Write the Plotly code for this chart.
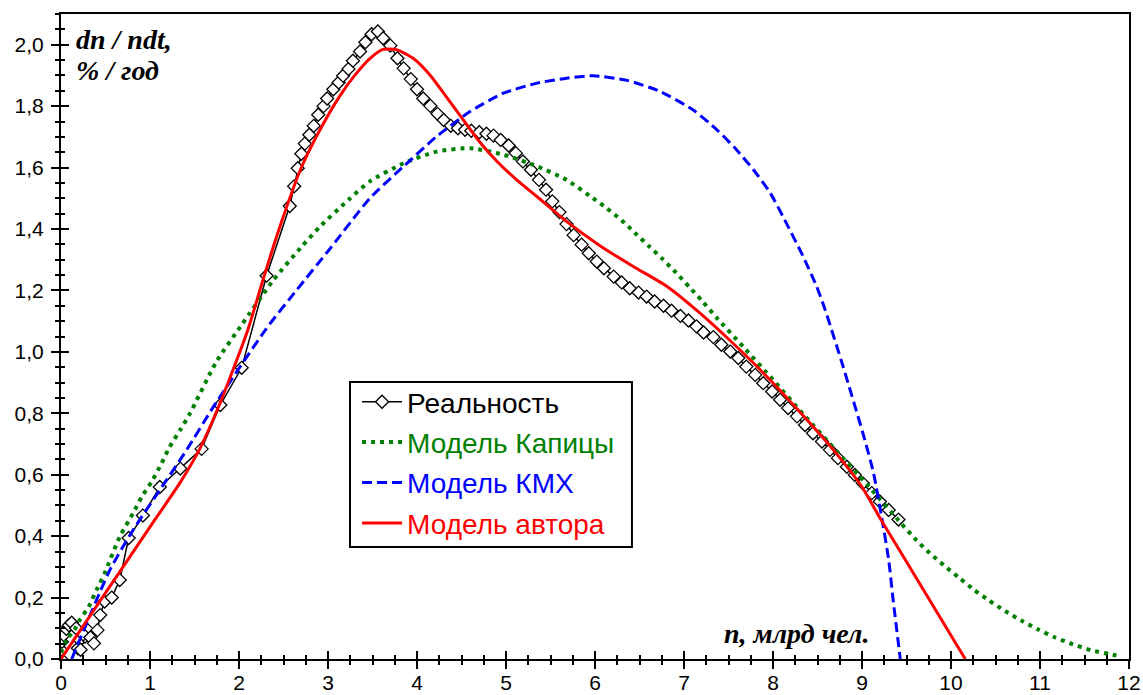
import plotly.graph_objects as go

# ---------------- data ----------------
real_x = [0.0, 0.0, 0.01, 0.03, 0.06, 0.09, 0.12, 0.17, 0.21, 0.19, 0.22, 0.27, 0.30, 0.25,
          0.33, 0.37, 0.41, 0.44, 0.49, 0.57, 0.66, 0.76, 0.92, 1.11, 1.34, 1.58, 1.79, 2.03,
          2.31, 2.57, 2.62, 2.66, 2.70, 2.74, 2.79, 2.84, 2.89, 2.95, 2.99, 3.06, 3.12, 3.17,
          3.23, 3.28, 3.36, 3.42, 3.49, 3.56, 3.62, 3.70, 3.78, 3.85, 3.93, 4.00, 4.07, 4.15,
          4.23, 4.30, 4.38, 4.46, 4.54, 4.61, 4.70, 4.78, 4.86, 4.94, 5.03, 5.11, 5.19, 5.28,
          5.37, 5.45, 5.52, 5.60, 5.68, 5.76, 5.85, 5.93, 6.02, 6.10, 6.21, 6.30, 6.39, 6.49,
          6.58, 6.67, 6.77, 6.86, 6.96, 7.05, 7.14, 7.22, 7.33, 7.42, 7.52, 7.61, 7.70, 7.80,
          7.89, 7.99, 8.08, 8.17, 8.27, 8.36, 8.45, 8.55, 8.64, 8.73, 8.83, 8.92, 9.01, 9.11,
          9.20, 9.30, 9.41]
real_y = [0.0, 0.03, 0.056, 0.078, 0.098, 0.11, 0.118, 0.10, 0.062, 0.035, 0.03, 0.073, 0.094, 0.08,
          0.07, 0.051, 0.094, 0.143, 0.187, 0.20, 0.257, 0.394, 0.467, 0.56, 0.62, 0.684, 0.827, 0.948,
          1.248, 1.475, 1.539, 1.598, 1.645, 1.678, 1.707, 1.736, 1.772, 1.80, 1.825, 1.855, 1.877, 1.899,
          1.921, 1.948, 1.978, 2.008, 2.034, 2.043, 2.021, 1.997, 1.956, 1.923, 1.888, 1.855, 1.825, 1.801,
          1.775, 1.755, 1.736, 1.728, 1.723, 1.72, 1.715, 1.71, 1.704, 1.69, 1.672, 1.647, 1.62, 1.593,
          1.56, 1.528, 1.49, 1.455, 1.416, 1.38, 1.349, 1.321, 1.294, 1.272, 1.245, 1.226, 1.207, 1.193,
          1.18, 1.164, 1.15, 1.134, 1.117, 1.102, 1.083, 1.063, 1.048, 1.023, 1.001, 0.98, 0.952, 0.925,
          0.898, 0.871, 0.844, 0.817, 0.79, 0.762, 0.735, 0.708, 0.681, 0.654, 0.626, 0.599, 0.572, 0.54,
          0.513, 0.485, 0.454]

kap_x = [0.0, 0.06, 0.15, 0.21, 0.31, 0.40, 0.49, 0.66, 0.81, 0.91, 1.02, 1.13, 1.22, 1.34, 1.45,
         1.74, 2.03, 2.39, 2.69, 2.91, 3.23, 3.47, 3.85, 4.22, 4.60, 4.97, 5.35, 5.68,
         5.98, 6.13, 6.30, 6.45, 6.61, 6.76, 6.91, 7.06, 7.20, 7.37, 7.67, 8.00, 8.34, 8.72,
         9.05, 9.445, 9.61, 9.76, 9.92, 10.09, 10.26, 10.43, 10.61, 10.79, 10.98, 11.17,
         11.37, 11.57, 11.78, 11.88]
kap_y = [0.02, 0.062, 0.094, 0.127, 0.17, 0.225, 0.279, 0.398, 0.475, 0.529, 0.578, 0.637, 0.69, 0.746, 0.80,
         0.965, 1.088, 1.235, 1.338, 1.408, 1.495, 1.555, 1.614, 1.652, 1.663, 1.642, 1.604, 1.56,
         1.50, 1.468, 1.428, 1.387, 1.343, 1.302, 1.258, 1.211, 1.167, 1.11, 1.015, 0.909, 0.797, 0.675,
         0.57, 0.44, 0.387, 0.345, 0.305, 0.265, 0.225, 0.19, 0.156, 0.125, 0.096, 0.07,
         0.048, 0.029, 0.016, 0.01]

kmx_x = [0.12, 0.55, 0.81, 1.11, 1.41, 1.71, 2.31, 2.65, 3.02, 3.47, 3.85, 4.22, 4.60, 4.97, 5.35,
         5.68, 5.98, 6.36, 6.73, 7.10, 7.37, 7.59, 7.78, 7.97, 8.15, 8.34, 8.49, 8.58, 8.79, 9.03,
         9.13, 9.22, 9.30, 9.35, 9.43]
kmx_y = [0.0, 0.29, 0.42, 0.55, 0.68, 0.82, 1.077, 1.202, 1.335, 1.50, 1.604, 1.701, 1.783, 1.842, 1.875,
         1.891, 1.899, 1.884, 1.848, 1.788, 1.723, 1.658, 1.593, 1.517, 1.419, 1.31, 1.213, 1.142, 0.95, 0.715,
         0.605, 0.463, 0.322, 0.192, 0.0]

aut_x = [0.0, 0.50, 1.0, 1.34, 1.56, 1.79, 2.10, 2.27, 2.46, 2.69, 2.91, 3.13, 3.30, 3.47, 3.62,
         3.77, 3.96, 4.15, 4.33, 4.52, 4.70, 4.90, 5.12, 5.35, 5.68, 6.06, 6.43, 6.81, 7.18, 7.55,
         7.93, 8.30, 8.68, 9.00, 9.20, 9.43, 10.16]
aut_y = [0.0, 0.215, 0.43, 0.575, 0.685, 0.835, 1.072, 1.235, 1.408, 1.593, 1.723, 1.832, 1.90, 1.955, 1.985,
         1.984, 1.955, 1.90, 1.83, 1.755, 1.685, 1.62, 1.56, 1.505, 1.425, 1.345, 1.278, 1.213, 1.126, 1.028,
         0.92, 0.805, 0.68, 0.56, 0.46, 0.35, 0.0]

names = ["Реальность", "Модель Капицы", "Модель КМХ", "Модель автора"]
x_ticks = list(range(0, 13))
y_ticks = [0.0, 0.2, 0.4, 0.6, 0.8, 1.0, 1.2, 1.4, 1.6, 1.8, 2.0]

# ---------------- figure ----------------
fig = go.Figure()

fig.add_trace(go.Scatter(
    x=real_x, y=real_y, mode="lines+markers",
    name=f"<span style='color:black'>{names[0]}</span>",
    line=dict(color="black", width=1.5),
    marker=dict(symbol="diamond", size=10, color="white", line=dict(color="black", width=1.3)),
    legendgroup="a",
))
fig.add_trace(go.Scatter(
    x=kap_x, y=kap_y, mode="lines", line_shape="spline", line_smoothing=0.6,
    name=f"<span style='color:#008000'>{names[1]}</span>",
    line=dict(color="#008000", width=4, dash="4px,5px"),
    legendgroup="b",
))
fig.add_trace(go.Scatter(
    x=kmx_x, y=kmx_y, mode="lines", line_shape="spline", line_smoothing=0.6,
    name=f"<span style='color:#0000ff'>{names[2]}</span>",
    line=dict(color="#0000ff", width=3, dash="10px,5px"),
    legendgroup="c",
))
fig.add_trace(go.Scatter(
    x=aut_x, y=aut_y, mode="lines", line_shape="spline", line_smoothing=0.6,
    name=f"<span style='color:#ff0000'>{names[3]}</span>",
    line=dict(color="#ff0000", width=3),
    legendgroup="d",
))
# invisible trace to activate overlay axes (inner ticks)
fig.add_trace(go.Scatter(x=[None], y=[None], xaxis="x2", yaxis="y2",
                         showlegend=False, hoverinfo="skip"))

tick_font = dict(family="Liberation Sans, Arial, sans-serif", size=21, color="black")

fig.update_layout(
    width=1143, height=695,
    margin=dict(l=61, r=14, t=14, b=36, autoexpand=False),
    paper_bgcolor="white", plot_bgcolor="white",
    separators=", ",
    showlegend=True,
    legend=dict(
        x=0.2772, y=0.4372, xanchor="left", yanchor="top",
        bgcolor="rgba(0,0,0,0)", borderwidth=0,
        font=dict(family="Liberation Sans, Arial, sans-serif", size=28, color="black"),
        tracegroupgap=1, itemwidth=40,
    ),
    # legend frame
    shapes=[dict(type="rect", xref="paper", yref="paper",
                 x0=0.2706, x1=0.5346, y0=0.1736, y1=0.4295,
                 line=dict(color="black", width=2), fillcolor="white", layer="below")],
    xaxis=dict(
        range=[0, 12], tickvals=x_ticks, ticktext=[str(v) for v in x_ticks],
        ticks="outside", ticklen=8, tickwidth=2, tickcolor="black",
        minor=dict(dtick=0.25, tick0=0, ticks="outside", ticklen=4, tickwidth=1.5, tickcolor="black"),
        showline=True, linecolor="black", linewidth=2, mirror=True, automargin=False,
        showgrid=False, zeroline=False, tickfont=tick_font, ticklabelstandoff=-4,
    ),
    yaxis=dict(
        range=[0, 2.1], tickvals=y_ticks, tickformat=".1f",
        ticks="outside", ticklen=8, tickwidth=2, tickcolor="black",
        minor=dict(dtick=0.05, tick0=0, ticks="outside", ticklen=4, tickwidth=1.5, tickcolor="black"),
        showline=True, linecolor="black", linewidth=2, mirror=True, automargin=False,
        showgrid=False, zeroline=False, tickfont=tick_font, ticklabelstandoff=3,
    ),
    xaxis2=dict(
        range=[0, 12], overlaying="x", anchor="y2", tickvals=x_ticks,
        ticks="inside", ticklen=8, tickwidth=2, tickcolor="black",
        minor=dict(dtick=0.25, tick0=0, ticks="inside", ticklen=4, tickwidth=1.5, tickcolor="black"),
        showticklabels=False, showline=False, showgrid=False, zeroline=False, automargin=False,
    ),
    yaxis2=dict(
        range=[0, 2.1], overlaying="y", anchor="x2", side="left", tickvals=y_ticks,
        ticks="inside", ticklen=8, tickwidth=2, tickcolor="black",
        minor=dict(dtick=0.05, tick0=0, ticks="inside", ticklen=4, tickwidth=1.5, tickcolor="black"),
        showticklabels=False, showline=False, showgrid=False, zeroline=False, automargin=False,
    ),
)

serif = dict(family="Liberation Serif, Times New Roman, serif", size=28, color="black")
fig.add_annotation(text="<b><i>dn / ndt,</i></b>", xref="paper", yref="paper",
                   x=0.012, y=0.96, xanchor="left", yanchor="middle", showarrow=False, font=serif)
fig.add_annotation(text="<b><i>% / год</i></b>", xref="paper", yref="paper",
                   x=0.012, y=0.912, xanchor="left", yanchor="middle", showarrow=False, font=serif)
fig.add_annotation(text="<b><i>n, млрд чел.</i></b>", xref="paper", yref="paper",
                   x=0.619, y=0.04, xanchor="left", yanchor="middle", showarrow=False, font=serif)

fig.write_html("out.html")
